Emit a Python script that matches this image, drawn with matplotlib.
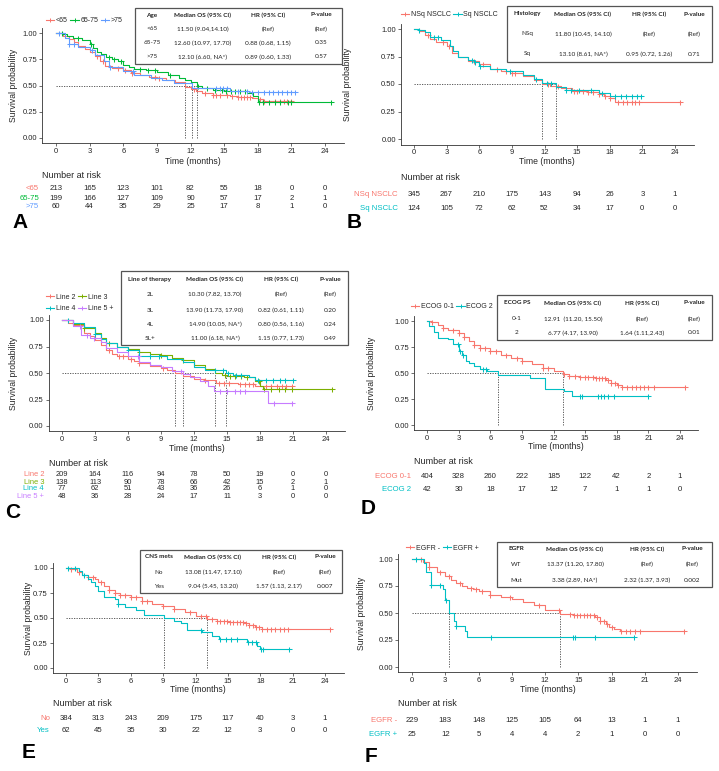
# Kaplan-Meier overall survival panels A-F with number-at-risk tables

import numpy as np
import matplotlib
matplotlib.use('Agg')
import matplotlib.pyplot as plt
from matplotlib.lines import Line2D
from matplotlib.patches import Rectangle
from matplotlib.transforms import blended_transform_factory

plt.rcParams['font.family'] = ['Liberation Sans', 'DejaVu Sans']

RISK_TIMES = [0, 3, 6, 9, 12, 15, 18, 21, 24]
TABLE_HEAD = ['Median OS (95% CI)', 'HR (95% CI)', 'P-value']

# ---------------- Panel A: age ----------------
a_labels = ['<65', '65-75', '>75']
a_lt65_t = [0, 0.6, 1.2, 1.6, 2.0, 2.6, 3.0, 3.5, 3.9, 4.4, 5.0, 6.0, 6.7, 7.5, 8.3, 9.0, 9.8, 10.6, 11.5, 12.0, 12.5, 13.0, 14.0, 15.5, 16.2, 17.5, 18.0, 18.5]
a_lt65_s = [1.0, 0.97, 0.94, 0.91, 0.88, 0.85, 0.82, 0.78, 0.73, 0.69, 0.67, 0.65, 0.62, 0.60, 0.58, 0.57, 0.55, 0.53, 0.49, 0.47, 0.45, 0.43, 0.41, 0.40, 0.39, 0.38, 0.37, 0.35]
a_lt65_c = [3.7, 4.2, 5.5, 6.2, 6.8, 8.8, 9.2, 12.3, 13.3, 14.0, 14.3, 14.6, 15.3, 15.7, 16.2, 16.5, 16.8, 17.0, 17.3, 18.2, 18.6, 19.5, 20.0, 20.3, 20.6, 21.0]
a_6575_t = [0, 0.6, 1.0, 1.5, 2.3, 3.0, 3.3, 3.7, 4.0, 4.5, 5.0, 5.5, 6.0, 6.5, 7.0, 8.0, 9.0, 10.0, 11.0, 11.5, 12.0, 12.6, 13.0, 14.0, 15.0, 17.0, 17.6, 18.0]
a_6575_s = [1.0, 0.99, 0.97, 0.95, 0.93, 0.90, 0.86, 0.82, 0.80, 0.77, 0.75, 0.73, 0.70, 0.68, 0.66, 0.65, 0.63, 0.60, 0.57, 0.55, 0.53, 0.50, 0.48, 0.46, 0.45, 0.43, 0.40, 0.34]
a_6575_c = [0.5, 2.0, 3.1, 4.7, 5.2, 5.8, 7.5, 8.2, 8.8, 10.2, 12.7, 13.5, 14.2, 14.8, 15.2, 15.6, 16.0, 16.4, 16.9, 18.1, 18.5, 19.0, 19.5, 20.0, 20.7, 21.0, 24.5]
a_gt75_t = [0, 0.8, 1.2, 2.0, 3.0, 3.5, 4.3, 4.7, 6.0, 7.0, 8.5, 9.5, 10.5, 12.1, 15.5, 17.2]
a_gt75_s = [1.0, 0.95, 0.90, 0.87, 0.84, 0.79, 0.73, 0.68, 0.64, 0.60, 0.57, 0.55, 0.52, 0.48, 0.45, 0.44]
a_gt75_c = [0.3, 1.2, 1.6, 3.2, 4.8, 6.9, 14.3, 14.6, 14.9, 15.3, 16.2, 17.0, 17.5, 18.0, 18.6, 19.0, 19.4, 19.8, 20.2, 20.6, 21.0, 21.3]
a_medians = [11.5, 12.6, 12.1]
a_risk_lt65 = [213, 165, 123, 101, 82, 55, 18, 0, 0]
a_risk_6575 = [199, 166, 127, 109, 90, 57, 17, 2, 1]
a_risk_gt75 = [60, 44, 35, 29, 25, 17, 8, 1, 0]
a_table = [['Age'] + TABLE_HEAD,
           ['<65', '11.50 (9.04,14.10)', '(Ref)', '(Ref)'],
           ['65-75', '12.60 (10.97, 17.70)', '0.88 (0.68, 1.15)', '0.35'],
           ['>75', '12.10 (6.60, NA*)', '0.89 (0.60, 1.33)', '0.57']]

# ---------------- Panel B: histology ----------------
b_labels = ['NSq NSCLC', 'Sq NSCLC']
b_nsq_t = [0, 0.5, 1.0, 1.5, 2.0, 3.0, 3.5, 4.0, 5.0, 6.0, 7.0, 8.0, 9.0, 10.0, 11.0, 11.8, 12.5, 13.5, 14.5, 16.0, 17.0, 17.5, 18.0, 18.5]
b_nsq_s = [1.0, 0.98, 0.95, 0.91, 0.88, 0.85, 0.78, 0.75, 0.71, 0.68, 0.64, 0.62, 0.60, 0.57, 0.54, 0.50, 0.48, 0.46, 0.44, 0.43, 0.41, 0.39, 0.37, 0.34]
b_nsq_c = [1.3, 2.7, 3.2, 5.5, 6.3, 7.6, 8.5, 9.0, 9.3, 12.3, 13.2, 14.7, 15.0, 15.5, 16.0, 16.5, 17.0, 17.6, 18.0, 18.8, 19.2, 19.6, 20.0, 20.3, 20.7, 24.5]
b_sq_t = [0, 0.5, 1.0, 1.5, 2.5, 3.3, 3.6, 4.0, 5.0, 5.5, 6.0, 7.0, 8.5, 10.0, 11.0, 11.8, 13.1, 14.0, 17.0, 18.0]
b_sq_s = [1.0, 0.99, 0.97, 0.93, 0.90, 0.85, 0.80, 0.75, 0.72, 0.70, 0.66, 0.64, 0.62, 0.58, 0.55, 0.51, 0.47, 0.45, 0.42, 0.39]
b_sq_c = [0.5, 1.8, 2.2, 5.3, 5.6, 6.1, 8.8, 11.2, 12.2, 12.6, 14.0, 14.4, 15.2, 16.3, 17.3, 18.5, 19.0, 19.5, 20.0, 20.5, 20.9]
b_medians = [11.8, 13.1]
b_risk_nsq = [345, 267, 210, 175, 143, 94, 26, 3, 1]
b_risk_sq = [124, 105, 72, 62, 52, 34, 17, 0, 0]
b_table = [['Histology'] + TABLE_HEAD,
           ['NSq', '11.80 (10.45, 14.10)', '(Ref)', '(Ref)'],
           ['Sq', '13.10 (8.61, NA*)', '0.95 (0.72, 1.26)', '0.71']]

# ---------------- Panel C: line of therapy ----------------
c_labels = ['Line 2', 'Line 3', 'Line 4', 'Line 5 +']
c_l2_t = [0, 0.5, 1.0, 2.0, 2.5, 3.0, 3.5, 4.0, 4.5, 5.0, 6.0, 6.5, 7.0, 8.0, 9.0, 9.5, 10.3, 11.0, 12.0, 13.0, 14.0, 16.0, 17.5]
c_l2_s = [1.0, 0.97, 0.95, 0.88, 0.85, 0.81, 0.76, 0.72, 0.68, 0.66, 0.63, 0.61, 0.59, 0.57, 0.55, 0.53, 0.50, 0.47, 0.44, 0.43, 0.41, 0.40, 0.38]
c_l2_c = [4.3, 5.2, 5.5, 6.3, 7.0, 9.2, 13.0, 14.3, 14.7, 15.2, 16.2, 16.6, 17.0, 17.4, 18.5, 19.0, 19.5, 20.0, 20.4, 20.9]
c_l3_t = [0, 1.0, 2.0, 3.0, 3.5, 4.0, 5.0, 6.0, 7.0, 8.0, 9.0, 10.0, 11.0, 12.0, 13.0, 13.9, 14.5, 15.0, 16.5, 17.5, 18.0, 18.3]
c_l3_s = [1.0, 0.96, 0.92, 0.88, 0.83, 0.78, 0.75, 0.73, 0.70, 0.68, 0.67, 0.64, 0.62, 0.58, 0.54, 0.50, 0.48, 0.47, 0.46, 0.42, 0.38, 0.35]
c_l3_c = [2.0, 4.3, 7.0, 9.0, 11.0, 14.8, 15.3, 15.7, 16.3, 16.8, 17.9, 18.4, 19.0, 19.7, 20.3, 20.9, 24.5]
c_l4_t = [0, 1.0, 2.0, 3.0, 3.5, 4.0, 5.0, 6.0, 7.0, 9.5, 11.0, 12.0, 13.0, 14.9, 15.5, 17.0, 17.5]
c_l4_s = [1.0, 0.97, 0.93, 0.87, 0.82, 0.78, 0.75, 0.72, 0.66, 0.63, 0.60, 0.56, 0.53, 0.50, 0.48, 0.46, 0.43]
c_l4_c = [0.5, 3.0, 6.0, 8.0, 8.8, 13.9, 14.6, 15.1, 15.8, 16.3, 17.8, 18.5, 19.2, 19.8, 20.3, 21.0]
c_l5_t = [0, 1.0, 1.7, 2.5, 3.5, 4.0, 5.0, 6.0, 7.0, 8.0, 9.0, 10.0, 11.0, 11.6, 12.5, 13.3, 13.8, 18.7]
c_l5_s = [1.0, 0.94, 0.86, 0.83, 0.79, 0.74, 0.70, 0.66, 0.60, 0.58, 0.56, 0.52, 0.49, 0.46, 0.42, 0.38, 0.33, 0.22]
c_l5_c = [1.6, 2.3, 2.9, 6.9, 10.8, 14.4, 15.0, 15.7, 16.2, 16.6, 19.3, 20.9]
c_medians = [10.3, 13.9, 14.9, 11.0]
c_risk_l2 = [209, 164, 116, 94, 78, 50, 19, 0, 0]
c_risk_l3 = [138, 113, 90, 78, 66, 42, 15, 2, 1]
c_risk_l4 = [77, 62, 51, 43, 36, 26, 6, 1, 0]
c_risk_l5 = [48, 36, 28, 24, 17, 11, 3, 0, 0]
c_table = [['Line of therapy'] + TABLE_HEAD,
           ['2L', '10.30 (7.82, 13.70)', '(Ref)', '(Ref)'],
           ['3L', '13.90 (11.73, 17.90)', '0.82 (0.61, 1.11)', '0.20'],
           ['4L', '14.90 (10.05, NA*)', '0.80 (0.56, 1.16)', '0.24'],
           ['5L+', '11.00 (6.18, NA*)', '1.15 (0.77, 1.73)', '0.49']]

# ---------------- Panel D: ECOG PS ----------------
d_labels = ['ECOG 0-1', 'ECOG 2']
d_e01_t = [0, 0.5, 1.0, 1.5, 2.0, 3.0, 3.5, 4.0, 4.5, 5.0, 6.0, 7.0, 8.0, 9.0, 10.0, 11.0, 12.0, 12.9, 13.5, 14.5, 16.0, 17.0, 17.5, 18.0, 18.5]
d_e01_s = [1.0, 0.99, 0.96, 0.93, 0.91, 0.88, 0.85, 0.81, 0.77, 0.74, 0.71, 0.67, 0.64, 0.62, 0.59, 0.55, 0.52, 0.49, 0.47, 0.46, 0.45, 0.43, 0.40, 0.38, 0.37]
d_e01_c = [0.5, 1.5, 2.5, 3.0, 3.5, 4.5, 5.0, 5.5, 6.0, 6.5, 7.5, 8.5, 9.0, 11.0, 11.5, 13.0, 13.5, 14.0, 14.5, 15.0, 15.3, 15.7, 16.0, 16.3, 16.6, 16.9, 17.2, 17.5, 17.8, 18.1, 18.5, 19.0, 19.4, 19.8, 20.2, 20.6, 21.0, 21.5, 24.5]
d_e2_t = [0, 0.2, 0.7, 1.0, 2.0, 2.5, 3.0, 3.3, 3.7, 4.0, 4.5, 5.0, 5.7, 6.77, 9.8, 11.2, 13.0, 13.8]
d_e2_s = [1.0, 0.95, 0.89, 0.84, 0.83, 0.78, 0.71, 0.67, 0.62, 0.60, 0.57, 0.54, 0.52, 0.48, 0.45, 0.35, 0.33, 0.28]
d_e2_c = [2.9, 3.1, 3.4, 5.3, 5.6, 14.5, 14.7, 16.2, 16.5, 16.8, 17.2, 17.7, 21.0]
d_medians = [12.91, 6.77]
d_risk_e01 = [404, 328, 260, 222, 185, 122, 42, 2, 1]
d_risk_e2 = [42, 30, 18, 17, 12, 7, 1, 1, 0]
d_table = [['ECOG PS'] + TABLE_HEAD,
           ['0-1', '12.91  (11.20, 15.50)', '(Ref)', '(Ref)'],
           ['2', '6.77 (4.17, 13.90)', '1.64 (1.11,2.43)', '0.01']]

# ---------------- Panel E: CNS metastases ----------------
e_labels = ['No', 'Yes']
e_no_t = [0, 0.5, 1.0, 1.5, 2.0, 2.7, 3.0, 3.5, 4.0, 4.5, 5.0, 6.0, 7.0, 8.0, 9.0, 10.0, 11.0, 12.0, 13.08, 14.0, 15.0, 16.5, 17.0, 17.5, 18.2]
e_no_s = [1.0, 0.99, 0.96, 0.93, 0.91, 0.89, 0.86, 0.82, 0.78, 0.75, 0.73, 0.71, 0.67, 0.64, 0.62, 0.59, 0.56, 0.52, 0.49, 0.47, 0.46, 0.45, 0.43, 0.41, 0.39]
e_no_c = [0.5, 1.2, 2.0, 2.5, 3.2, 4.0, 4.5, 5.0, 5.5, 6.0, 6.5, 7.0, 7.5, 9.0, 10.0, 11.5, 12.5, 13.0, 13.5, 14.0, 14.3, 14.6, 14.9, 15.2, 15.5, 15.8, 16.1, 16.4, 16.7, 17.0, 17.3, 17.6, 17.9, 18.2, 18.6, 19.0, 19.4, 19.8, 20.2, 20.6, 24.5]
e_yes_t = [0, 1.2, 1.5, 2.0, 2.3, 2.7, 3.0, 3.5, 4.5, 4.8, 5.5, 6.5, 7.2, 9.04, 10.0, 10.7, 11.2, 12.6, 13.5, 14.2, 16.8, 17.7, 18.0]
e_yes_s = [1.0, 0.97, 0.93, 0.89, 0.86, 0.82, 0.77, 0.71, 0.69, 0.64, 0.61, 0.58, 0.53, 0.50, 0.47, 0.45, 0.38, 0.36, 0.32, 0.29, 0.26, 0.22, 0.19]
e_yes_c = [0.2, 0.8, 1.7, 4.8, 12.5, 14.3, 14.8, 15.3, 15.8, 16.9, 17.2, 17.6, 18.1, 18.3, 20.7]
e_medians = [13.08, 9.04]
e_risk_no = [384, 313, 243, 209, 175, 117, 40, 3, 1]
e_risk_yes = [62, 45, 35, 30, 22, 12, 3, 0, 0]
e_table = [['CNS mets'] + TABLE_HEAD,
           ['No', '13.08 (11.47, 17.10)', '(Ref)', '(Ref)'],
           ['Yes', '9.04 (5.45, 13.20)', '1.57 (1.13, 2.17)', '0.007']]

# ---------------- Panel F: EGFR ----------------
f_labels = ['EGFR -', 'EGFR +']
f_wt_t = [0, 1.0, 1.5, 2.3, 3.0, 3.5, 4.0, 4.5, 5.0, 5.5, 6.0, 7.0, 8.0, 9.0, 10.0, 11.0, 12.0, 13.37, 14.5, 16.5, 17.0, 17.5, 17.8, 18.2, 18.8]
f_wt_s = [1.0, 0.97, 0.93, 0.88, 0.84, 0.81, 0.78, 0.75, 0.73, 0.72, 0.70, 0.67, 0.65, 0.63, 0.60, 0.57, 0.53, 0.49, 0.48, 0.46, 0.43, 0.40, 0.37, 0.35, 0.33]
f_wt_c = [0.8, 1.5, 2.5, 3.3, 4.3, 5.3, 5.8, 6.3, 7.0, 8.8, 11.5, 13.3, 14.3, 14.6, 14.9, 15.2, 15.5, 15.8, 16.1, 16.4, 16.7, 17.0, 17.3, 17.6, 18.0, 18.9, 19.3, 19.7, 20.1, 20.6, 24.5]
f_mut_t = [0, 1.1, 1.3, 1.7, 2.8, 3.0, 3.3, 3.38, 3.8, 4.0, 4.8, 5.0]
f_mut_s = [1.0, 0.96, 0.88, 0.76, 0.72, 0.62, 0.55, 0.50, 0.43, 0.38, 0.33, 0.28]
f_mut_c = [0.4, 1.7, 2.5, 3.1, 4.0, 7.1, 14.5, 14.7, 16.5, 20.0]
f_medians = [13.37, 3.38]
f_risk_wt = [229, 183, 148, 125, 105, 64, 13, 1, 1]
f_risk_mut = [25, 12, 5, 4, 4, 2, 1, 0, 0]
f_table = [['EGFR'] + TABLE_HEAD,
           ['WT', '13.37 (11.20, 17.80)', '(Ref)', '(Ref)'],
           ['Mut', '3.38 (2.89, NA*)', '2.32 (1.37, 3.93)', '0.002']]

# ggplot default hue colours
RED, CYAN = '#F8766D', '#00BFC4'
GREEN3, BLUE3 = '#00BA38', '#619CFF'
GREEN4, PURPLE4 = '#7CAE00', '#C77CFF'
TXT = '#262626'

W, H = 719, 771
fig = plt.figure(figsize=(W / 100, H / 100), dpi=100)


def fx(x):
    return x / W


def fy(y):
    return 1 - y / H


def make_axes(x0, x24, y1, y0):
    pm = (x24 - x0) / 24.0
    pu = y0 - y1
    left, right = x0 - 1.225 * pm, x0 + 25.725 * pm
    top, bottom = y1 - 0.05 * pu, y0 + 0.05 * pu
    ax = fig.add_axes([fx(left), fy(bottom), (right - left) / W, (bottom - top) / H])
    ax.set_xlim(-1.225, 25.725)
    ax.set_ylim(-0.05, 1.05)
    ax.set_xticks(RISK_TIMES)
    ax.set_yticks([0, 0.25, 0.5, 0.75, 1.0])
    ax.set_yticklabels(['0.00', '0.25', '0.50', '0.75', '1.00'])
    for sp in ['top', 'right']:
        ax.spines[sp].set_visible(False)
    for sp in ['left', 'bottom']:
        ax.spines[sp].set_linewidth(0.6)
        ax.spines[sp].set_color('#333333')
    ax.tick_params(labelsize=5.5, length=2, width=0.5, pad=1.5, colors='#333333', labelcolor=TXT)
    ax.patch.set_alpha(0)
    return ax


def km(ax, t, s, c, color):
    end = max(max(c), t[-1])
    ax.step(list(t) + [end], list(s) + [s[-1]], where='post', color=color, lw=0.8, zorder=3)
    idx = np.searchsorted(t, c, side='right') - 1
    ax.plot(c, np.array(s)[idx], ls='none', marker='+', color=color, ms=3.6, mew=0.75, zorder=3)


def median_lines(ax, meds):
    kw = dict(color='#444444', lw=0.6, ls=(0, (1.5, 1.5)), zorder=2)
    ax.plot([0, max(meds)], [0.5, 0.5], **kw)
    for m in meds:
        ax.plot([m, m], [0, 0.5], **kw)


def axis_labels(ax, xlab_y, ylab_x):
    pos = ax.get_position()
    fig.text(pos.x0 + pos.width / 2, fy(xlab_y), 'Time (months)', ha='center', va='center',
             fontsize=6.2, color=TXT)
    fig.text(fx(ylab_x), pos.y0 + pos.height / 2, 'Survival probability', rotation=90,
             ha='center', va='center', fontsize=6.2, color=TXT)


def risk_table(ax, labels, rows, colors, ys, lab_x, nar_y, fs=5.6):
    tr = blended_transform_factory(ax.transData, fig.transFigure)
    fig.text(ax.get_position().x0, fy(nar_y), 'Number at risk', ha='left', va='center',
             fontsize=6.5, color=TXT)
    for lab, row, col, y in zip(labels, rows, colors, ys):
        fig.text(fx(lab_x), fy(y), lab, ha='right', va='center', fontsize=fs, color=col)
        for t, n in zip(RISK_TIMES, row):
            ax.text(t, fy(y), str(n), transform=tr, ha='center', va='center',
                    fontsize=fs, color=TXT)


def info_table(box, cols, rows_y, table):
    x0, y0, x1, y1 = box
    fig.patches.append(Rectangle((fx(x0), fy(y1)), (x1 - x0) / W, (y1 - y0) / H,
                                 transform=fig.transFigure, fill=True, facecolor='white',
                                 edgecolor='#555555', lw=0.9, zorder=5))
    for r, (row, y) in enumerate(zip(table, rows_y)):
        for cell, x in zip(row, cols):
            fig.text(fx(x), fy(y), cell, ha='center', va='center', fontsize=4.6,
                     family=['Lato', 'DejaVu Sans'], color='#222222',
                     weight='bold' if r == 0 else 'normal', zorder=6)


def legend(ax, labels, colors, x, y, ncol):
    handles = [Line2D([], [], color=c, lw=0.8, marker='+', ms=3.5, mew=0.7) for c in colors]
    ax.legend(handles, labels, loc='center left', bbox_to_anchor=(fx(x), fy(y)),
              bbox_transform=fig.transFigure, ncol=ncol, frameon=False, fontsize=5.0,
              handlelength=1.2, handletextpad=0.25, columnspacing=0.35, borderpad=0,
              borderaxespad=0, labelspacing=0.6, labelcolor=TXT)


def letter(ch, x, y):
    fig.text(fx(x), fy(y), ch, ha='left', va='center', fontsize=15, weight='bold', color='black')


# ---------- A ----------
ax = make_axes(56, 325, 33, 138)
cols = [RED, GREEN3, BLUE3]
median_lines(ax, a_medians)
km(ax, a_lt65_t, a_lt65_s, a_lt65_c, RED)
km(ax, a_6575_t, a_6575_s, a_6575_c, GREEN3)
km(ax, a_gt75_t, a_gt75_s, a_gt75_c, BLUE3)
axis_labels(ax, 161, 13)
legend(ax, a_labels, cols, 46, 21, 3)
risk_table(ax, a_labels, [a_risk_lt65, a_risk_6575, a_risk_gt75], cols, [189, 198, 207], 39, 176)
info_table((135, 8, 342, 64), [152, 203, 268, 321], [15, 29, 43, 57], a_table)
letter('A', 12, 222)

# ---------- B ----------
ax = make_axes(414, 675, 29, 139)
cols = [RED, CYAN]
median_lines(ax, b_medians)
km(ax, b_nsq_t, b_nsq_s, b_nsq_c, RED)
km(ax, b_sq_t, b_sq_s, b_sq_c, CYAN)
axis_labels(ax, 162, 348)
legend(ax, b_labels, cols, 401, 15, 2)
risk_table(ax, b_labels, [b_risk_nsq, b_risk_sq], cols, [194, 208], 398, 178)
info_table((507, 6, 712, 62), [527, 583, 649, 694], [14, 34, 54], b_table)
letter('B', 347, 222)

# ---------- C ----------
ax = make_axes(62, 326, 320, 426)
cols = [RED, GREEN4, CYAN, PURPLE4]
median_lines(ax, c_medians)
km(ax, c_l2_t, c_l2_s, c_l2_c, RED)
km(ax, c_l3_t, c_l3_s, c_l3_c, GREEN4)
km(ax, c_l4_t, c_l4_s, c_l4_c, CYAN)
km(ax, c_l5_t, c_l5_s, c_l5_c, PURPLE4)
axis_labels(ax, 448, 13)
# legend is filled column-wise, so reorder to read row-wise: Line 2, Line 3 / Line 4, Line 5 +
order = [0, 2, 1, 3]
legend(ax, [c_labels[i] for i in order], [cols[i] for i in order], 46, 303, 2)
risk_table(ax, c_labels, [c_risk_l2, c_risk_l3, c_risk_l4, c_risk_l5], cols,
           [475, 482, 489, 496], 44, 463, fs=5.4)
info_table((121, 271, 348, 345), [150, 215, 281, 330], [279, 294, 310, 324, 338], c_table)
letter('C', 5, 512)

# ---------- D ----------
ax = make_axes(427, 680, 321, 425)
cols = [RED, CYAN]
median_lines(ax, d_medians)
km(ax, d_e01_t, d_e01_s, d_e01_c, RED)
km(ax, d_e2_t, d_e2_s, d_e2_c, CYAN)
axis_labels(ax, 446, 372)
legend(ax, d_labels, cols, 411, 307, 2)
risk_table(ax, d_labels, [d_risk_e01, d_risk_e2], cols, [477, 490], 411, 462)
info_table((497, 295, 712, 340), [517, 573, 642, 694], [303, 319, 333], d_table)
letter('D', 361, 509)

# ---------- E ----------
ax = make_axes(66, 325, 568, 668)
cols = [RED, CYAN]
median_lines(ax, e_medians)
km(ax, e_no_t, e_no_s, e_no_c, RED)
km(ax, e_yes_t, e_yes_s, e_yes_c, CYAN)
axis_labels(ax, 689, 29)
risk_table(ax, e_labels, [e_risk_no, e_risk_yes], cols, [718, 731], 50, 703)
info_table((140, 550, 342, 593), [159, 213, 279, 325], [557, 572, 586], e_table)
letter('E', 22, 752)

# ---------- F ----------
ax = make_axes(412, 678, 559, 667)
cols = [RED, CYAN]
median_lines(ax, f_medians)
km(ax, f_wt_t, f_wt_s, f_wt_c, RED)
km(ax, f_mut_t, f_mut_s, f_mut_c, CYAN)
axis_labels(ax, 689, 362)
legend(ax, f_labels, cols, 406, 548, 2)
risk_table(ax, f_labels, [f_risk_wt, f_risk_mut], cols, [720, 734], 397, 704)
info_table((497, 542, 712, 587), [516, 575, 647, 692], [549, 564, 580], f_table)
letter('F', 365, 756)

fig.savefig('out.png', dpi=100)
